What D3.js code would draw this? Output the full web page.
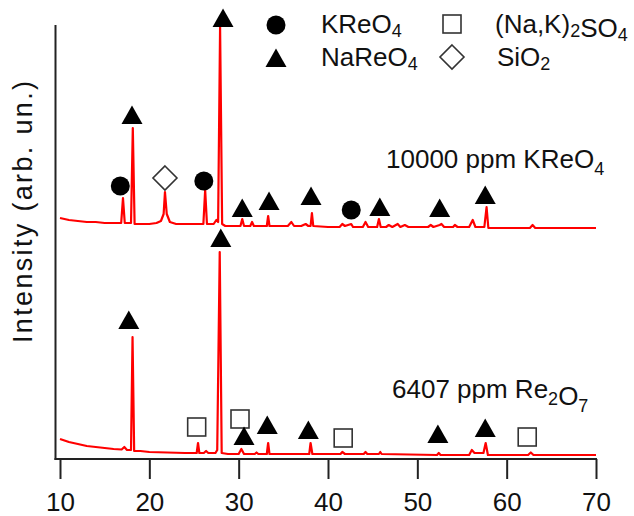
<!DOCTYPE html>
<html>
<head>
<meta charset="utf-8">
<script src="https://cdn.jsdelivr.net/npm/d3@7"></script>
<style>
  body { margin: 0; background: #fff; }
  text { font-family: "Liberation Sans", Arial, sans-serif; fill: #111; }
</style>
</head>
<body>
<svg id="chart" width="634" height="516"></svg>
<script>
// x axis ticks (2-theta, degrees)
const xTicks = [10, 20, 30, 40, 50, 60, 70];

// upper pattern: 10000 ppm KReO4 (2-theta / intensity, arb. un.)
const topTheta = [10, 11, 12, 13, 14, 15, 16, 16.85, 17.05, 17.25, 17.95, 18.15, 18.35, 19, 20, 20.8, 21.3, 21.6, 21.75, 21.95, 22.3, 23, 24, 25, 26.05, 26.25, 26.45, 27.2, 27.5, 27.7, 27.92, 28.15, 28.5, 29.5, 30.2, 30.4, 30.6, 31.3, 31.5, 31.7, 32.5, 33.15, 33.3, 33.45, 35.5, 35.9, 36.2, 37, 37.5, 37.8, 38.05, 38.2, 38.35, 40, 41.3, 41.6, 41.9, 42.6, 42.8, 43.9, 44.2, 44.5, 45.5, 45.7, 45.9, 46.5, 46.8, 47.2, 47.8, 48.1, 48.6, 49, 51.2, 51.5, 51.8, 52.5, 52.7, 53, 54, 54.2, 54.5, 55.8, 56.2, 56.5, 57.5, 57.75, 57.95, 60, 62.6, 62.9, 63.2, 66, 70];
const topCounts = [24.1, 23.9, 23.8, 23.7, 23.7, 23.6, 23.6, 23.6, 26.1, 23.6, 23.6, 33.1, 23.5, 23.5, 23.5, 23.6, 23.8, 24.5, 26.7, 24.5, 23.7, 23.5, 23.5, 23.5, 23.5, 26.9, 23.5, 23.5, 23.9, 23.7, 43.2, 23.5, 23.3, 23.3, 23.3, 24.0, 23.3, 23.3, 23.7, 23.3, 23.3, 23.3, 24.3, 23.3, 23.3, 23.7, 23.3, 23.3, 23.5, 23.3, 23.3, 24.6, 23.3, 23.2, 23.2, 23.5, 23.3, 23.5, 23.2, 23.2, 23.7, 23.2, 23.2, 24.0, 23.2, 23.2, 23.4, 23.2, 23.5, 23.2, 23.4, 23.2, 23.2, 23.4, 23.2, 23.4, 23.5, 23.2, 23.2, 23.4, 23.2, 23.2, 23.9, 23.2, 23.2, 25.2, 23.1, 23.1, 23.1, 23.4, 23.1, 23.1, 23.1];

// lower pattern: 6407 ppm Re2O7
const botTheta = [10, 11, 12, 13, 14, 15, 16, 16.9, 17.2, 17.5, 17.95, 18.12, 18.3, 19, 20, 22, 24, 25.3, 25.45, 25.6, 26.1, 26.35, 26.6, 27.4, 27.6, 27.88, 28.1, 28.8, 30, 30.3, 30.6, 31.8, 32, 32.2, 33.15, 33.3, 33.45, 37.9, 38.05, 38.25, 41.4, 41.6, 41.9, 44, 44.2, 44.4, 45.7, 45.85, 46, 52.2, 52.4, 52.6, 55.8, 56.1, 56.4, 57.4, 57.65, 57.9, 62.4, 62.7, 63, 70];
const botCounts = [2.0, 1.7, 1.5, 1.3, 1.2, 1.1, 1.0, 0.95, 1.2, 0.9, 0.9, 12.2, 0.8, 0.8, 0.7, 0.65, 0.6, 0.6, 1.6, 0.6, 0.6, 0.8, 0.6, 0.6, 0.9, 20.7, 0.6, 0.5, 0.5, 1.0, 0.5, 0.5, 0.65, 0.5, 0.5, 1.6, 0.5, 0.5, 1.6, 0.5, 0.5, 0.7, 0.5, 0.5, 0.7, 0.5, 0.5, 0.7, 0.5, 0.4, 0.6, 0.4, 0.4, 0.9, 0.6, 0.6, 1.6, 0.4, 0.4, 0.65, 0.4, 0.4];

// phase markers: K = KReO4, Na = NaReO4, S = (Na,K)2SO4, Si = SiO2
const markKind  = ["K", "Na", "Si", "K", "Na", "Na", "Na", "Na", "K", "Na", "Na", "Na",
                   "Na", "Na", "S", "S", "Na", "Na", "Na", "S", "Na", "Na", "S"];
const markTheta = [16.75, 18.06, 21.75, 26.1, 28.25, 30.4, 33.4, 38.1, 42.6, 45.8, 52.5, 57.6,
                   17.7, 28.0, 25.3, 30.15, 30.6, 33.2, 37.8, 41.7, 52.3, 57.6, 62.3];
const markLevel = [27.3, 34.4, 28.1, 27.8, 44.1, 25.1, 25.8, 26.3, 24.9, 25.2, 25.1, 26.4,
                   13.9, 22.1, 3.2, 4.0, 2.3, 3.4, 2.9, 2.1, 2.5, 3.1, 2.2];

const svg = d3.select("#chart");

const x = d3.scaleLinear().domain([10, 70]).range([60, 596]);
const y = d3.scaleLinear().domain([0, 43.4]).range([459, 25]);

const line = d3.line()
  .x(d => x(d[0]))
  .y(d => y(d[1]));

// axes
svg.append("line")
  .attr("x1", 55.5).attr("x2", 55.5)
  .attr("y1", 25).attr("y2", 460)
  .attr("stroke", "#222").attr("stroke-width", 2);

const xAxis = svg.append("g")
  .attr("transform", "translate(0,459)")
  .call(d3.axisBottom(x).tickValues(xTicks).tickSize(20).tickPadding(14).tickFormat(d3.format("d")));
xAxis.select(".domain").remove();
xAxis.selectAll(".tick line").attr("stroke", "#222").attr("stroke-width", 2);
xAxis.selectAll(".tick text")
  .attr("font-size", 26).attr("font-family", "Liberation Sans, Arial, sans-serif").attr("fill", "#111");
svg.append("line")
  .attr("x1", 54.5).attr("x2", 597)
  .attr("y1", 459).attr("y2", 459)
  .attr("stroke", "#222").attr("stroke-width", 2);

svg.append("text")
  .attr("transform", "translate(32,212) rotate(-90)")
  .attr("text-anchor", "middle")
  .attr("font-size", 27)
  .attr("textLength", 262)
  .attr("lengthAdjust", "spacing")
  .text("Intensity (arb. un.)");

// patterns
[[topTheta, topCounts], [botTheta, botCounts]].forEach(([tt, cc]) => {
  svg.append("path")
    .datum(tt.map((t, i) => [t, cc[i]]))
    .attr("fill", "none")
    .attr("stroke", "#ff0000")
    .attr("stroke-width", 2.2)
    .attr("stroke-linejoin", "round")
    .attr("d", line);
});

function drawMark(g, kind) {
  if (kind === "K") {
    g.append("circle").attr("r", 9.5).attr("fill", "#000");
  } else if (kind === "Na") {
    g.append("path").attr("d", "M0,-9.5L10.5,9L-10.5,9Z").attr("fill", "#000");
  } else if (kind === "S") {
    g.append("rect").attr("x", -9).attr("y", -9).attr("width", 18).attr("height", 18)
      .attr("fill", "#fff").attr("stroke", "#333").attr("stroke-width", 1.6);
  } else {
    g.append("path").attr("d", "M0,-12L12,0L0,12L-12,0Z")
      .attr("fill", "#fff").attr("stroke", "#333").attr("stroke-width", 1.6);
  }
}

markKind.forEach((k, i) => {
  const g = svg.append("g")
    .attr("transform", `translate(${x(markTheta[i])},${y(markLevel[i])})`);
  drawMark(g, k);
});

// text with subscripts: parts = [[string, isSub], ...]
function richText(px, py, parts, shift) {
  const t = svg.append("text").attr("x", px).attr("y", py).attr("font-size", 26);
  parts.forEach(([s, sub]) => {
    t.append("tspan")
      .attr("font-size", sub ? 18 : 26)
      .attr("dy", sub ? shift : 0)
      .text(s);
    if (sub) t.append("tspan").attr("dy", -shift).text("");
  });
  return t;
}

// legend
const legend = [
  ["K", 276, 25, 321, 33, [["KReO", 0], ["4", 1]]],
  ["Na", 276, 58, 321, 66, [["NaReO", 0], ["4", 1]]],
  ["S", 452, 24, 495, 33, [["(Na,K)", 0], ["2", 1], ["SO", 0], ["4", 1]]],
  ["Si", 452, 57, 497, 66, [["SiO", 0], ["2", 1]]]
];
legend.forEach(([k, sx, sy, tx, ty, parts]) => {
  drawMark(svg.append("g").attr("transform", `translate(${sx},${sy})`), k);
  richText(tx, ty, parts, 4);
});

richText(386, 168, [["10000 ppm KReO", 0], ["4", 1]], 7);
richText(392, 398, [["6407 ppm Re", 0], ["2", 1], ["O", 0], ["7", 1]], 7);
</script>
</body>
</html>
